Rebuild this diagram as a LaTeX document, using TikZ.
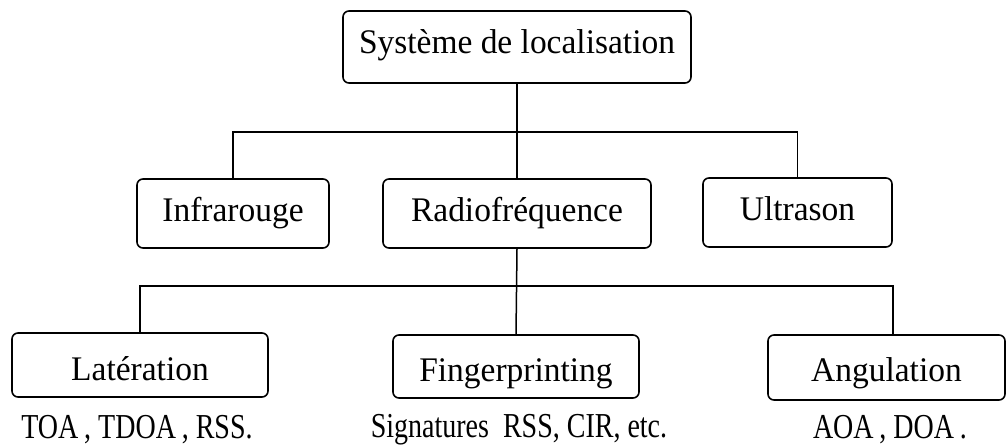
\documentclass[tikz,border=0pt]{standalone}
\usepackage{fontspec}
\setmainfont{Liberation Serif}[FakeStretch=0.97]
\newfontfamily\notefont{Liberation Serif}[FakeStretch=0.8]
\begin{document}
\begin{tikzpicture}[x=1pt,y=-1pt,
  box/.style={draw,line width=1.6pt,rounded corners=6pt,inner sep=0pt,
    font=\fontsize{34.5}{40}\selectfont},
  drop/.style={text height=#1,text depth=0pt},
  wire/.style={line width=1.5pt},
  note/.style={anchor=base,inner sep=0pt,font=\notefont\fontsize{35}{40}\selectfont}]
\useasboundingbox (0,0) rectangle (1006,446);

% root
\node[box,minimum width=348pt,minimum height=72pt,text height=24pt,text depth=10pt]
  (sys) at (517,47) {Système de localisation};

% technologies
\node[box,minimum width=192pt,minimum height=69pt,text height=25pt,text depth=8pt]
  (inf) at (233,213.5) {Infrarouge};
\node[box,minimum width=268pt,minimum height=69pt,text height=25pt,text depth=8pt]
  (rad) at (517,213.5) {Radiofréquence};
\node[box,minimum width=189pt,minimum height=69pt,text height=25pt,text depth=8pt]
  (ult) at (797.5,212.5) {Ultrason};

% methods
\node[box,minimum width=256pt,minimum height=64pt,drop=31pt]
  (lat) at (140,365) {Latération};
\node[box,minimum width=246pt,minimum height=63pt,drop=30pt]
  (fin) at (516,366.5) {Fingerprinting};
\node[box,minimum width=237pt,minimum height=65pt,drop=28pt]
  (ang) at (886.5,367.5) {Angulation};

% measurements
\node[note] (latm) at (137,438) {TOA\,, TDOA\,, RSS.};
\node[note] (finm) at (519,437) {Signatures\ \ RSS, CIR, etc.};
\node[note] (angm) at (890,438) {AOA\,, DOA\,.};

% tree connectors
\coordinate (j1) at (517,132);
\coordinate (j2) at (517,286);
\draw[wire] (sys.south) -- (rad.north);
\draw[wire] (inf.north) |- (j1) -| (ult.north);
\draw[wire] (rad.south) -- (fin.north);
\draw[wire] (lat.north) |- (j2) -| ([xshift=6.5pt]ang.north);
\end{tikzpicture}
\end{document}
